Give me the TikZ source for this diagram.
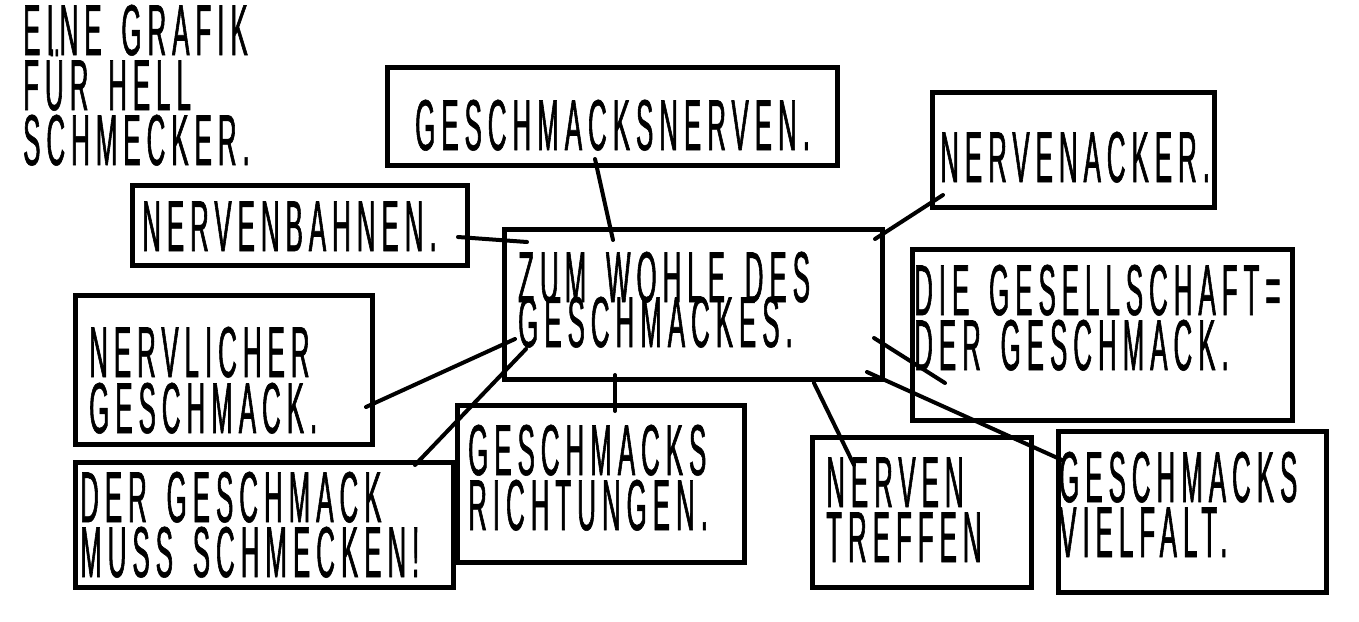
\documentclass[tikz,border=0pt]{standalone}
\usepackage{fontspec}
\setmainfont{Liberation Sans}[FakeStretch=0.36, LetterSpace=8.3, FakeBold=0.8, WordSpace=1.5]
\begin{document}
\begin{tikzpicture}[x=1pt,y=-1pt]
\tikzset{
 box/.style={draw, line width=5pt, rectangle, inner sep=0pt, outer sep=0pt, anchor=north west},
 txt/.style={inner sep=0pt, anchor=base west, font=\fontsize{72}{72}\selectfont},
 conn/.style={line width=4pt, line cap=round},
}
\useasboundingbox[fill=white] (0,0) rectangle (1359,621);
% boxes
\node[box, minimum width=335pt, minimum height=80pt]  (bahnen)   at (132.5,185.5) {};
\node[box, minimum width=450pt, minimum height=98pt]  (nerven)   at (387.5,67.5) {};
\node[box, minimum width=378pt, minimum height=150pt] (center)   at (504.5,229.5) {};
\node[box, minimum width=282pt, minimum height=115pt] (acker)    at (932.5,92.5) {};
\node[box, minimum width=380pt, minimum height=171pt] (gesell)   at (912.5,249.5) {};
\node[box, minimum width=297pt, minimum height=149pt] (nervlich) at (75.5,295.5) {};
\node[box, minimum width=378pt, minimum height=125pt] (muss)     at (75.5,462.5) {};
\node[box, minimum width=287pt, minimum height=157pt] (richt)    at (457.5,405.5) {};
\node[box, minimum width=219pt, minimum height=150pt] (treffen)  at (812.5,437.5) {};
\node[box, minimum width=268pt, minimum height=161pt] (vielfalt) at (1058.5,431.5) {};
% texts
\node[txt] (ti1) at (23,55) {EINE GRAFIK};
\node[txt] (ti2) at (23,110) {FÜR HELL};
\node[txt] (ti3) at (23,165) {SCHMECKER.};
\node[txt] (tb) at (142,251) {NERVENBAHNEN.};
\node[txt] (tn) at (415,150) {GESCHMACKSNERVEN.};
\node[txt] (tc1) at (518,302) {ZUM WOHLE DES};
\node[txt] (tc2) at (518,347) {GESCHMACKES.};
\node[txt] (ta) at (940,182) {NERVENACKER.};
\node[txt] (tg1) at (914,315) {DIE GESELLSCHAFT=};
\node[txt] (tg2) at (914,370) {DER GESCHMACK.};
\node[txt] (tl1) at (89,377) {NERVLICHER};
\node[txt] (tl2) at (89,433) {GESCHMACK.};
\node[txt] (tm1) at (80,522) {DER GESCHMACK};
\node[txt] (tm2) at (80,577) {MUSS SCHMECKEN!};
\node[txt] (tr1) at (468,475) {GESCHMACKS};
\node[txt] (tr2) at (468,530) {RICHTUNGEN.};
\node[txt] (tt1) at (826,507) {NERVEN};
\node[txt] (tt2) at (826,562) {TREFFEN};
\node[txt] (tv1) at (1059,502) {GESCHMACKS};
\node[txt] (tv2) at (1059,557) {VIELFALT.};
% connectors
\draw[conn] ([shift={(325.5,51.5)}]bahnen.north west) -- ([shift={(22.5,12.5)}]center.north west);
\draw[conn] ([shift={(207.5,91.5)}]nerven.north west) -- ([shift={(108.5,10.5)}]center.north west);
\draw[conn] ([shift={(10.5,102.5)}]acker.north west) -- ([shift={(370.5,9.5)}]center.north west);
\draw[conn] ([shift={(369.5,108.5)}]center.north west) -- ([shift={(32.5,133.5)}]gesell.north west);
\draw[conn] ([shift={(362.5,142.5)}]center.north west) -- ([shift={(3.5,28.5)}]vielfalt.north west);
\draw[conn] ([shift={(309.5,153.5)}]center.north west) -- ([shift={(41.5,27.5)}]treffen.north west);
\draw[conn] ([shift={(110.5,145.5)}]center.north west) -- ([shift={(157.5,5.5)}]richt.north west);
\draw[conn] ([shift={(290.5,111.5)}]nervlich.north west) -- ([shift={(10.5,109.5)}]center.north west);
\draw[conn] ([shift={(339.5,2.5)}]muss.north west) -- ([shift={(21.5,119.5)}]center.north west);
\end{tikzpicture}
\end{document}
